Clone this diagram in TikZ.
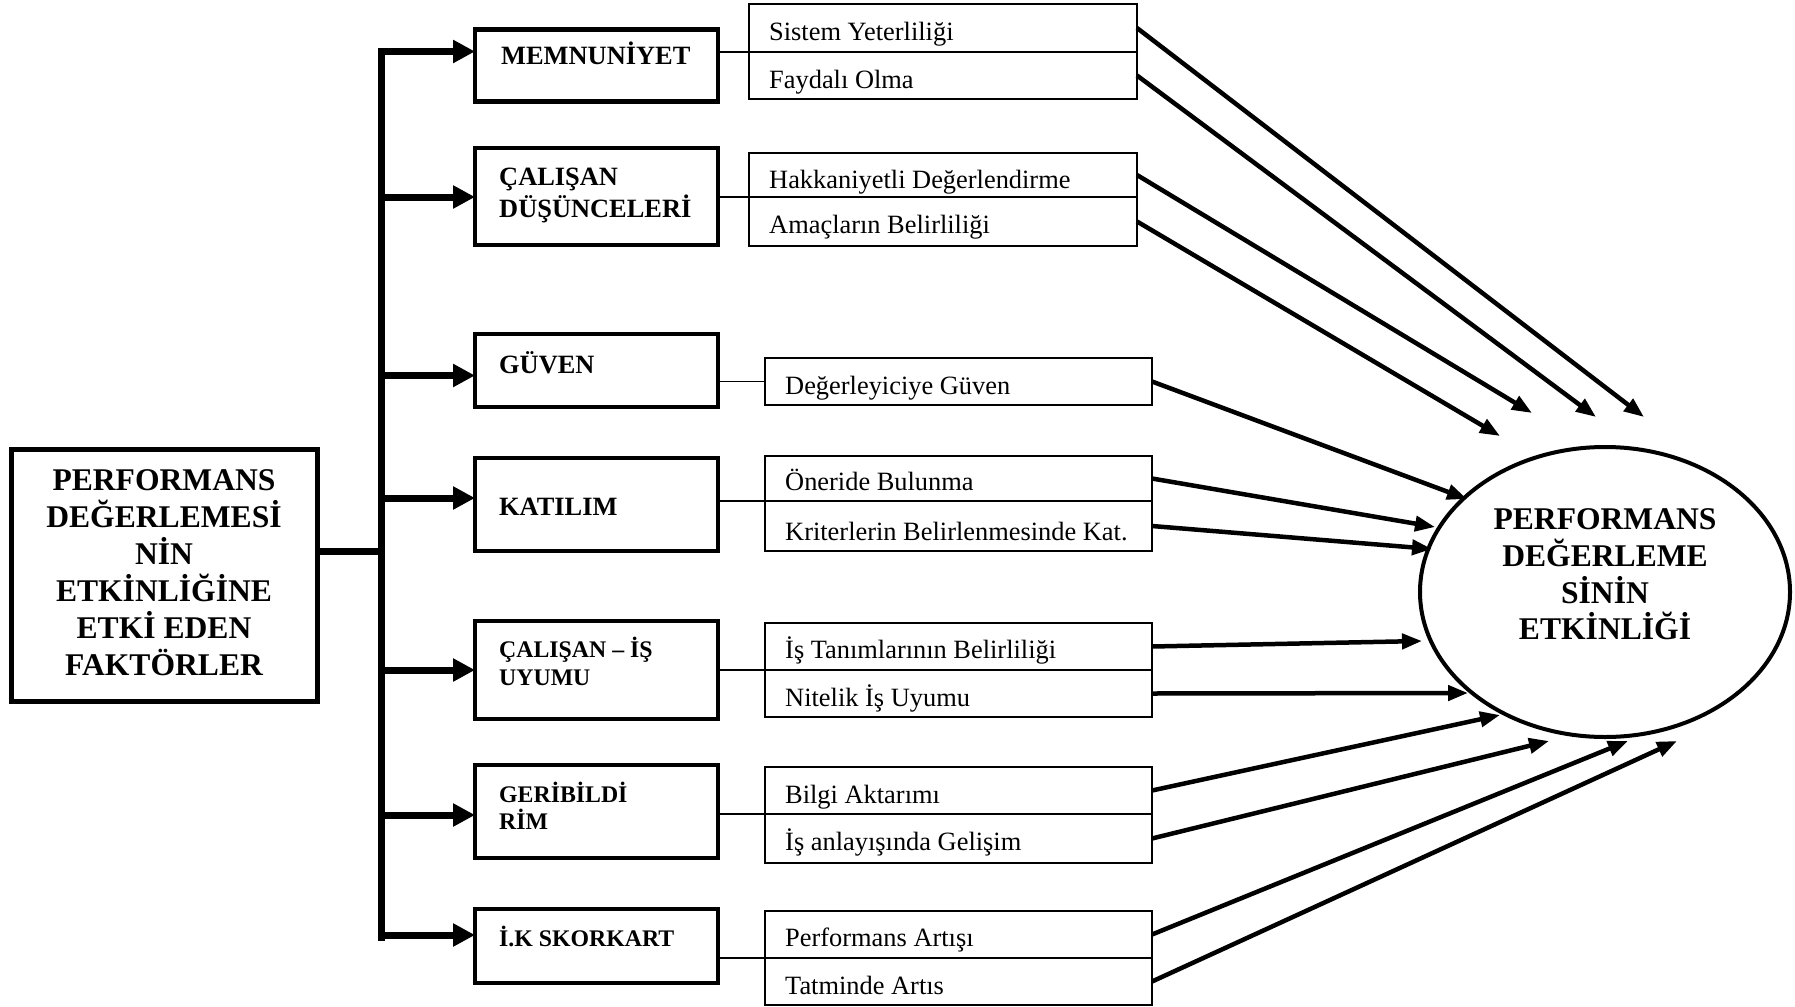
\documentclass[tikz,border=0pt]{standalone}
\usepackage{fontspec}
\setmainfont{Liberation Serif}
\usetikzlibrary{arrows.meta,shapes.geometric}

\tikzset{
  frame/.style={draw, line width=5pt, inner sep=0pt, outer sep=0pt, anchor=north west},
  catbox/.style={draw, line width=4.5pt, inner sep=0pt, outer sep=0pt, anchor=north west, minimum width=243pt},
  cell/.style={draw, line width=1.5pt, inner sep=0pt, outer sep=0pt, anchor=north west},
  cellA/.style={cell, minimum width=388pt},
  cellB/.style={cell, minimum width=387pt},
  subtxt/.style={anchor=base west, inner sep=0pt, font=\fontsize{26.4}{31}\selectfont},
  cattxt/.style={anchor=base west, inner sep=0pt, font=\bfseries\fontsize{26.4}{31}\selectfont},
  cattxtsm/.style={anchor=base west, inner sep=0pt, font=\bfseries\fontsize{23.8}{28}\selectfont},
  titletxt/.style={anchor=base, inner sep=0pt, font=\bfseries\fontsize{31.6}{37}\selectfont},
  trunk/.style={line width=7pt},
  branch/.style={line width=7pt, -{Triangle[length=22pt,width=22pt]}},
  tie/.style={line width=1.5pt},
  feed/.style={line width=4.5pt, -{Triangle[length=20pt,width=15pt]}},
}

\begin{document}
\begin{tikzpicture}[x=1pt,y=-1pt]
\useasboundingbox[fill=white] (0,0) rectangle (1795,1006);

% source box
\node[frame, minimum width=306pt, minimum height=252pt] (factors) at (11,449) {};
\node[titletxt] (f1) at (164,490) {PERFORMANS};
\node[titletxt] (f2) at (164,527) {DEĞERLEMESİ};
\node[titletxt] (f3) at (164,564) {NİN};
\node[titletxt] (f4) at (164,601) {ETKİNLİĞİNE};
\node[titletxt] (f5) at (164,638) {ETKİ EDEN};
\node[titletxt] (f6) at (164,675) {FAKTÖRLER};

% factor boxes
\node[catbox, minimum height=72pt] (memn)  at (475,29.5) {};
\node[catbox, minimum height=97pt] (calis) at (475,148) {};
\node[catbox, minimum height=73pt] (guven) at (475,334) {};
\node[catbox, minimum height=93pt] (katil) at (475,458) {};
\node[catbox, minimum height=98pt] (uyum)  at (475,621) {};
\node[catbox, minimum height=93pt] (geri)  at (475,765) {};
\node[catbox, minimum height=74pt] (ik)    at (475,909) {};

\node[cattxt] (lm)  at (501,65)  {MEMNUNİYET};
\node[cattxt] (lc1) at (499,185) {ÇALIŞAN};
\node[cattxt] (lc2) at (499,217) {DÜŞÜNCELERİ};
\node[cattxt] (lg)  at (499,373) {GÜVEN};
\node[cattxt] (lk)  at (499,515) {KATILIM};
\node[cattxtsm] (lu1) at (499,657) {ÇALIŞAN – İŞ};
\node[cattxtsm] (lu2) at (499,685) {UYUMU};
\node[cattxtsm] (lr1) at (499,802) {GERİBİLDİ};
\node[cattxtsm] (lr2) at (499,829) {RİM};
\node[cattxtsm] (li)  at (499,946) {İ.K SKORKART};

% trunk and branches
\coordinate (j0) at (381,551);
\coordinate (ttop) at (381,48);
\coordinate (tbot) at (381,941);
\draw[trunk] (j0 -| factors.east) -- (j0);
\draw[trunk] (ttop) -- (tbot);
\coordinate (b1) at (381,51.5);
\coordinate (b2) at (381,197);
\coordinate (b3) at (381,375.5);
\coordinate (b4) at (381,498);
\coordinate (b5) at (381,670);
\coordinate (b6) at (381,815);
\coordinate (b7) at (381,935);
\draw[branch] (b1) -- (b1 -| memn.west);
\draw[branch] (b2) -- (b2 -| calis.west);
\draw[branch] (b3) -- (b3 -| guven.west);
\draw[branch] (b4) -- (b4 -| katil.west);
\draw[branch] (b5) -- (b5 -| uyum.west);
\draw[branch] (b6) -- (b6 -| geri.west);
\draw[branch] (b7) -- (b7 -| ik.west);

% detail cells
\node[cellA, minimum height=48pt] (sistem)  at (749,4)   {};
\node[cellA, minimum height=47pt] (faydali) at (749,52)  {};
\node[cellA, minimum height=44pt] (hakk)    at (749,153) {};
\node[cellA, minimum height=49pt] (amac)    at (749,197) {};
\node[cellB, minimum height=47pt] (deger)   at (765,358) {};
\node[cellB, minimum height=45pt] (oneri)   at (765,456) {};
\node[cellB, minimum height=50pt] (krit)    at (765,501) {};
\node[cellB, minimum height=47pt] (istan)   at (765,623) {};
\node[cellB, minimum height=47pt] (nitel)   at (765,670) {};
\node[cellB, minimum height=47pt] (bilgi)   at (765,767) {};
\node[cellB, minimum height=49pt] (anlay)   at (765,814) {};
\node[cellB, minimum height=47pt] (perf)    at (765,911) {};
\node[cellB, minimum height=47pt] (tatmin)  at (765,958) {};

\node[subtxt] (s1)  at (769,41)  {Sistem Yeterliliği};
\node[subtxt] (s2)  at (769,89)  {Faydalı Olma};
\node[subtxt] (s3)  at (769,188) {Hakkaniyetli Değerlendirme};
\node[subtxt] (s4)  at (769,233) {Amaçların Belirliliği};
\node[subtxt] (s5)  at (785,394) {Değerleyiciye Güven};
\node[subtxt] (s6)  at (785,490) {Öneride Bulunma};
\node[subtxt] (s7)  at (785,540) {Kriterlerin Belirlenmesinde Kat.};
\node[subtxt] (s8)  at (785,658) {İş Tanımlarının Belirliliği};
\node[subtxt] (s9)  at (785,706) {Nitelik İş Uyumu};
\node[subtxt] (s10) at (785,803) {Bilgi Aktarımı};
\node[subtxt] (s11) at (785,850) {İş anlayışında Gelişim};
\node[subtxt] (s12) at (785,946) {Performans Artışı};
\node[subtxt] (s13) at (785,994) {Tatminde Artıs};

% ties between factor boxes and detail cells
\draw[tie] (sistem.south west -| memn.east) -- (sistem.south west);
\draw[tie] (hakk.south west -| calis.east) -- (hakk.south west);
\draw[tie] (deger.west -| guven.east) -- (deger.west);
\draw[tie] (oneri.south west -| katil.east) -- (oneri.south west);
\draw[tie] (istan.south west -| uyum.east) -- (istan.south west);
\draw[tie] (bilgi.south west -| geri.east) -- (bilgi.south west);
\draw[tie] (perf.south west -| ik.east) -- (perf.south west);

% outcome
\node[draw, ellipse, line width=4pt, inner sep=0pt, minimum width=370pt, minimum height=290pt] (eff) at (1605,592) {};
\node[titletxt] (o1) at (1605,529) {PERFORMANS};
\node[titletxt] (o2) at (1605,566) {DEĞERLEME};
\node[titletxt] (o3) at (1605,603) {SİNİN};
\node[titletxt] (o4) at (1605,639) {ETKİNLİĞİ};

% arrows into the outcome
\coordinate (e1)  at (1644,417);
\coordinate (e2)  at (1596,417);
\coordinate (e3)  at (1532,413);
\coordinate (e4)  at (1500,436);
\coordinate (e5)  at (1467,499);
\coordinate (e6)  at (1435,527);
\coordinate (e7)  at (1432,549);
\coordinate (e8)  at (1422,641);
\coordinate (e9)  at (1468,693);
\coordinate (e10) at (1500,715);
\coordinate (e11) at (1549,741);
\coordinate (e12) at (1628,741);
\coordinate (e13) at (1677,741);
\draw[feed] (sistem.east)  -- (e1);
\draw[feed] (faydali.east) -- (e2);
\draw[feed] (hakk.east)    -- (e3);
\draw[feed] (amac.east)    -- (e4);
\draw[feed] (deger.east)   -- (e5);
\draw[feed] (oneri.east)   -- (e6);
\draw[feed] (krit.east)    -- (e7);
\draw[feed] (istan.east)   -- (e8);
\draw[feed] (nitel.east)   -- (e9);
\draw[feed] (bilgi.east)   -- (e10);
\draw[feed] (anlay.east)   -- (e11);
\draw[feed] (perf.east)    -- (e12);
\draw[feed] (tatmin.east)  -- (e13);
\end{tikzpicture}
\end{document}
